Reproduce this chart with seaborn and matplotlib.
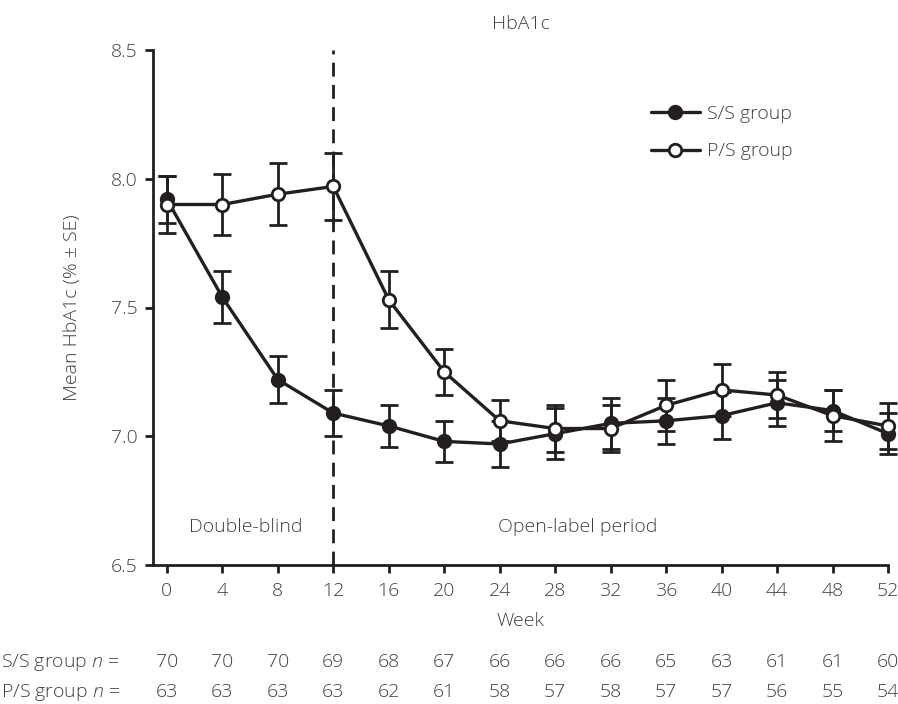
import matplotlib
matplotlib.use("Agg")
import matplotlib.pyplot as plt
import matplotlib.transforms as mtransforms
from matplotlib.lines import Line2D
import numpy as np
import pandas as pd
import seaborn as sns

# ---------------- data ----------------
weeks = [0, 4, 8, 12, 16, 20, 24, 28, 32, 36, 40, 44, 48, 52]
ss_mean = [7.92, 7.54, 7.22, 7.09, 7.04, 6.98, 6.97, 7.01, 7.05, 7.06, 7.08, 7.13, 7.10, 7.01]
ss_se = [0.09, 0.10, 0.09, 0.09, 0.08, 0.08, 0.09, 0.10, 0.10, 0.09, 0.09, 0.09, 0.08, 0.08]
ps_mean = [7.90, 7.90, 7.94, 7.97, 7.53, 7.25, 7.06, 7.03, 7.03, 7.12, 7.18, 7.16, 7.08, 7.04]
ps_se = [0.11, 0.12, 0.12, 0.13, 0.11, 0.09, 0.08, 0.09, 0.09, 0.10, 0.10, 0.09, 0.10, 0.09]
ss_n = [70, 70, 70, 69, 68, 67, 66, 66, 66, 65, 63, 61, 61, 60]
ps_n = [63, 63, 63, 63, 62, 61, 58, 57, 58, 57, 57, 56, 55, 54]
groups = ["S/S group", "P/S group"]
y_ticks = [6.5, 7.0, 7.5, 8.0, 8.5]
period_labels = ["Double-blind", "Open-label period"]

# ---------------- style ----------------
sns.set_style("ticks")
plt.rcParams["font.family"] = ["Open Sans", "DejaVu Sans"]
plt.rcParams["mathtext.fontset"] = "custom"
plt.rcParams["mathtext.rm"] = "Open Sans:light"
plt.rcParams["mathtext.it"] = "Open Sans:italic:light"

INK = "#231f20"
TXT = "#404040"
FS = 14

df_ss = pd.DataFrame({"week": weeks, "mean": ss_mean, "se": ss_se})
df_ps = pd.DataFrame({"week": weeks, "mean": ps_mean, "se": ps_se})

fig = plt.figure(figsize=(8.98, 7.04), dpi=100)
ax = fig.add_axes([153 / 898, 1 - 565 / 704, (888 - 153) / 898, (565 - 50) / 704])

# dashed separator at week 12
ax.axvline(12, color=INK, lw=2.0, ls=(0, (5, 3)), zorder=1)

# error bars
for d in (df_ss, df_ps):
    eb = ax.errorbar(d["week"], d["mean"], yerr=d["se"], fmt="none", ecolor=INK,
                     elinewidth=2.0, capsize=6.5, capthick=2.0, zorder=2)
    for art in list(eb.lines[1]) + list(eb.lines[2]):
        art.set_clip_on(False)

# lines with markers
sns.lineplot(data=df_ss, x="week", y="mean", ax=ax, color=INK, lw=2.4,
             marker="o", markersize=9, markerfacecolor=INK, markeredgecolor=INK,
             markeredgewidth=2.0, label=groups[0], zorder=3, clip_on=False,
             errorbar=None)
sns.lineplot(data=df_ps, x="week", y="mean", ax=ax, color=INK, lw=2.4,
             marker="o", markersize=9, markerfacecolor="white", markeredgecolor=INK,
             markeredgewidth=2.0, label=groups[1], zorder=4, clip_on=False,
             errorbar=None)

# axes
ax.set_xlim(-1, 52)
ax.set_ylim(6.5, 8.5)
ax.set_xticks(weeks)
ax.set_xticklabels([str(w) for w in weeks])
ax.set_yticks(y_ticks)
ax.set_yticklabels([f"{v:.1f}" for v in y_ticks])
sns.despine(ax=ax)
for s in ("left", "bottom"):
    ax.spines[s].set_linewidth(2.0)
    ax.spines[s].set_color(INK)
ax.tick_params(axis="both", direction="out", length=6, width=2.0, color=INK,
               labelsize=FS, labelcolor=TXT)
ax.tick_params(axis="x", pad=6)
ax.tick_params(axis="y", pad=5)
for lab in ax.get_xticklabels() + ax.get_yticklabels():
    lab.set_fontweight("light")

ax.set_xlabel("Week", fontsize=FS, color=TXT, fontweight="light")
ax.xaxis.set_label_coords(0.5, (565 - 621) / 515)
ax.xaxis.label.set_va("center")
ax.set_ylabel("Mean HbA1c (% ± SE)", fontsize=FS, color=TXT, fontweight="light")
ax.yaxis.set_label_coords((72 - 153) / 735, 0.5)
ax.yaxis.label.set_va("center")

ax.set_title("HbA1c", fontsize=FS, color=TXT, pad=15, fontweight="light")

# period annotations
ax.text(5.7, 6.648, period_labels[0], ha="center", va="center", fontsize=FS,
        color=TXT, fontweight="light")
ax.text(29.6, 6.648, period_labels[1], ha="center", va="center", fontsize=FS,
        color=TXT, fontweight="light")

# legend
handles = [
    Line2D([], [], color=INK, lw=2.4, marker="o", markersize=9, markerfacecolor=INK,
           markeredgecolor=INK, markeredgewidth=2.0),
    Line2D([], [], color=INK, lw=2.4, marker="o", markersize=9, markerfacecolor="white",
           markeredgecolor=INK, markeredgewidth=2.0),
]
leg = ax.legend(handles, groups, loc="upper left",
                bbox_to_anchor=((651 - 153) / 735, 1 - (105 - 50) / 515),
                frameon=False, fontsize=FS, handlelength=2.5, handletextpad=0.4,
                labelspacing=1.0, borderpad=0, borderaxespad=0)
for t in leg.get_texts():
    t.set_color(TXT)
    t.set_fontweight("light")

# n table below the axis
trans = mtransforms.blended_transform_factory(ax.transData, fig.transFigure)
row_labels = ["S/S group $n$ =", "P/S group $n$ ="]
row_y = [1 - 667 / 704, 1 - 697 / 704]
for lbl, ns, yy in zip(row_labels, [ss_n, ps_n], row_y):
    fig.text(1 / 898, yy, lbl, ha="left", va="baseline", fontsize=FS, color=TXT,
             fontweight="light")
    for w, n in zip(weeks, ns):
        ax.text(w, yy, str(n), transform=trans, ha="center", va="baseline",
                fontsize=FS, color=TXT, fontweight="light", clip_on=False)

fig.savefig("out.png", dpi=100)
